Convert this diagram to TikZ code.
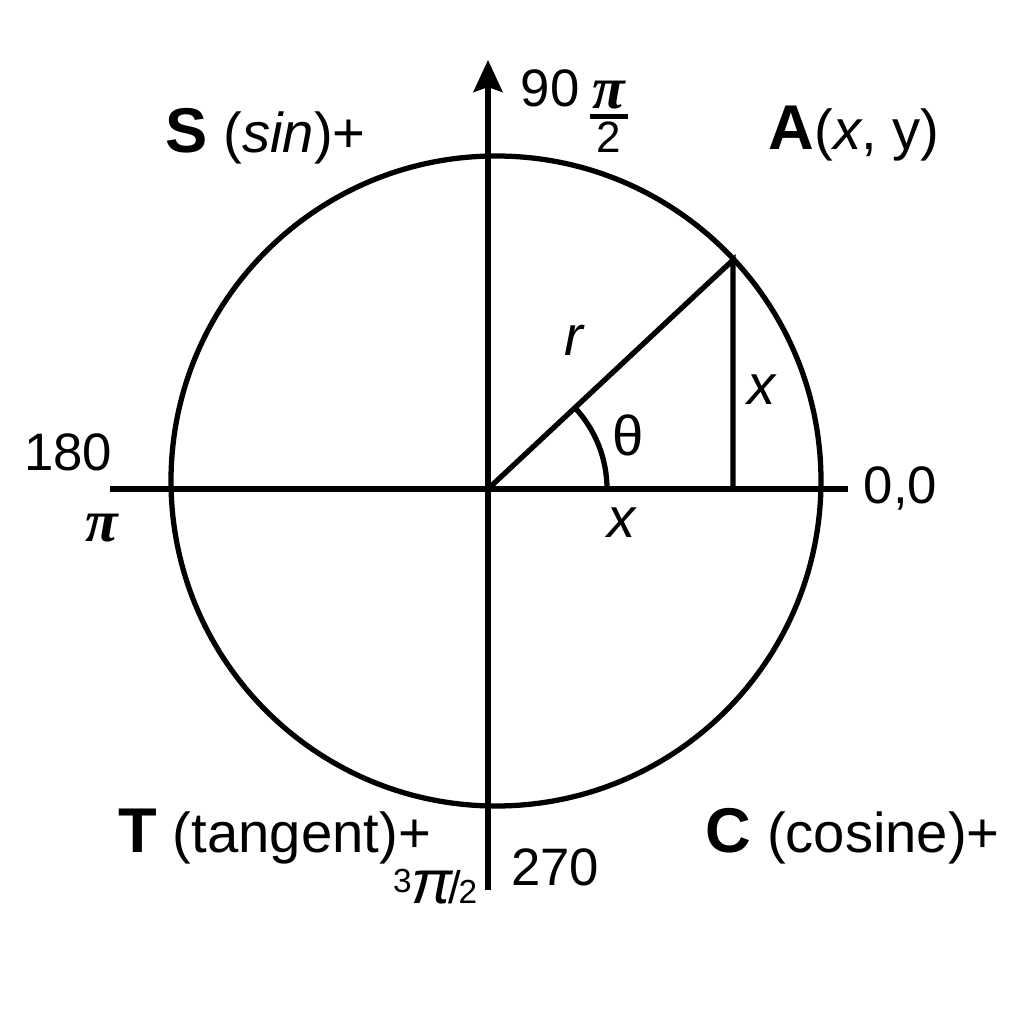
\documentclass[tikz,border=0pt]{standalone}
\usepackage{fontspec}
\setmainfont{Liberation Sans}
\newfontfamily\serifpi{Liberation Serif}
\usetikzlibrary{arrows.meta}
\newcommand{\cuad}[1]{{\fontsize{18}{20}\selectfont\bfseries #1}}
\newcommand{\pigrande}{{\serifpi\fontsize{17}{19}\selectfont\bfseries\itshape π}}

\begin{document}
\begin{tikzpicture}[
        eje/.style={line width=1.5pt},
        txt/.style={font=\fontsize{16}{18}\selectfont, inner sep=0pt},
        num/.style={font=\fontsize{15}{17}\selectfont, inner sep=0pt}
    ]
        \useasboundingbox (-4.88,-5.36) rectangle (5.37,4.89);
        % Ejes
        \coordinate (O) at (0,0);
        \coordinate (izq) at (-3.78,0);
        \coordinate (der) at (3.60,0);
        \coordinate (abajo) at (0,-4.01);
        \coordinate (arriba) at (0,4.29);
        \draw[eje] (izq) -- (der);
        \draw[eje, -{Stealth[length=3.2mm, width=2.9mm, inset=0.5mm]}] (abajo) -- (arriba);
        % Circunferencia
        \draw[eje] (0.08,0.08) circle (3.25);
        % Triangulo y angulo
        \coordinate (A) at (2.45,2.29);
        \coordinate (P) at (2.45,0);
        \draw[eje] (O) -- (A) -- (P);
        \draw[eje] (1.19,0) arc (0:43:1.19);
        \node[txt] (r) at (0.87,1.49) {\textit{r}};
        \node[txt] (th) at (1.40,0.54) {θ};
        \node[txt] (xv) at (2.74,0.99) {\textit{x}};
        \node[txt] (xh) at (1.34,-0.34) {\textit{x}};
        % Cuadrantes
        \node[txt, anchor=base west] (S) at (-3.23,3.36) {\cuad{S} (\textit{sin})+};
        \node[txt, anchor=base west] (Apt) at (2.80,3.39) {\cuad{A}(\textit{x}, y)};
        \node[txt, anchor=base west] (T) at (-3.70,-3.63) {\cuad{T} (tangent)+};
        \node[txt, anchor=base west] (C) at (2.17,-3.63) {\cuad{C} (cosine)+};
        % Angulos
        \node[num, anchor=base west] (n90) at (0.32,3.82) {90};
        \node[num] (pitwo) at (1.21,3.72)
            {\vbox{\offinterlineskip
                \hbox to 0.38cm{\hss\pigrande\hss}\kern1.4pt
                \hrule height 1.2pt\kern0.9pt
                \hbox to 0.38cm{\hss\fontsize{12.5}{14}\selectfont 2\hss}}};
        \node[num] (n180) at (-4.20,0.37) {180};
        \node[num] (pione) at (-3.86,-0.39) {\pigrande};
        \node[num, anchor=west] (n0) at (3.75,0.01) {0,0};
        \node[num] (n270) at (0.67,-3.78) {270};
        \node[num, anchor=base east] (pithree) at (-0.10,-4.14)
            {\raisebox{3pt}{\fontsize{9.5}{10}\selectfont 3}{\fontsize{17.5}{19}\selectfont\itshape π}\kern-0.08em{\fontsize{13}{15}\selectfont /}\kern-0.05em{\fontsize{9.5}{10}\selectfont 2}};
\end{tikzpicture}
\end{document}
